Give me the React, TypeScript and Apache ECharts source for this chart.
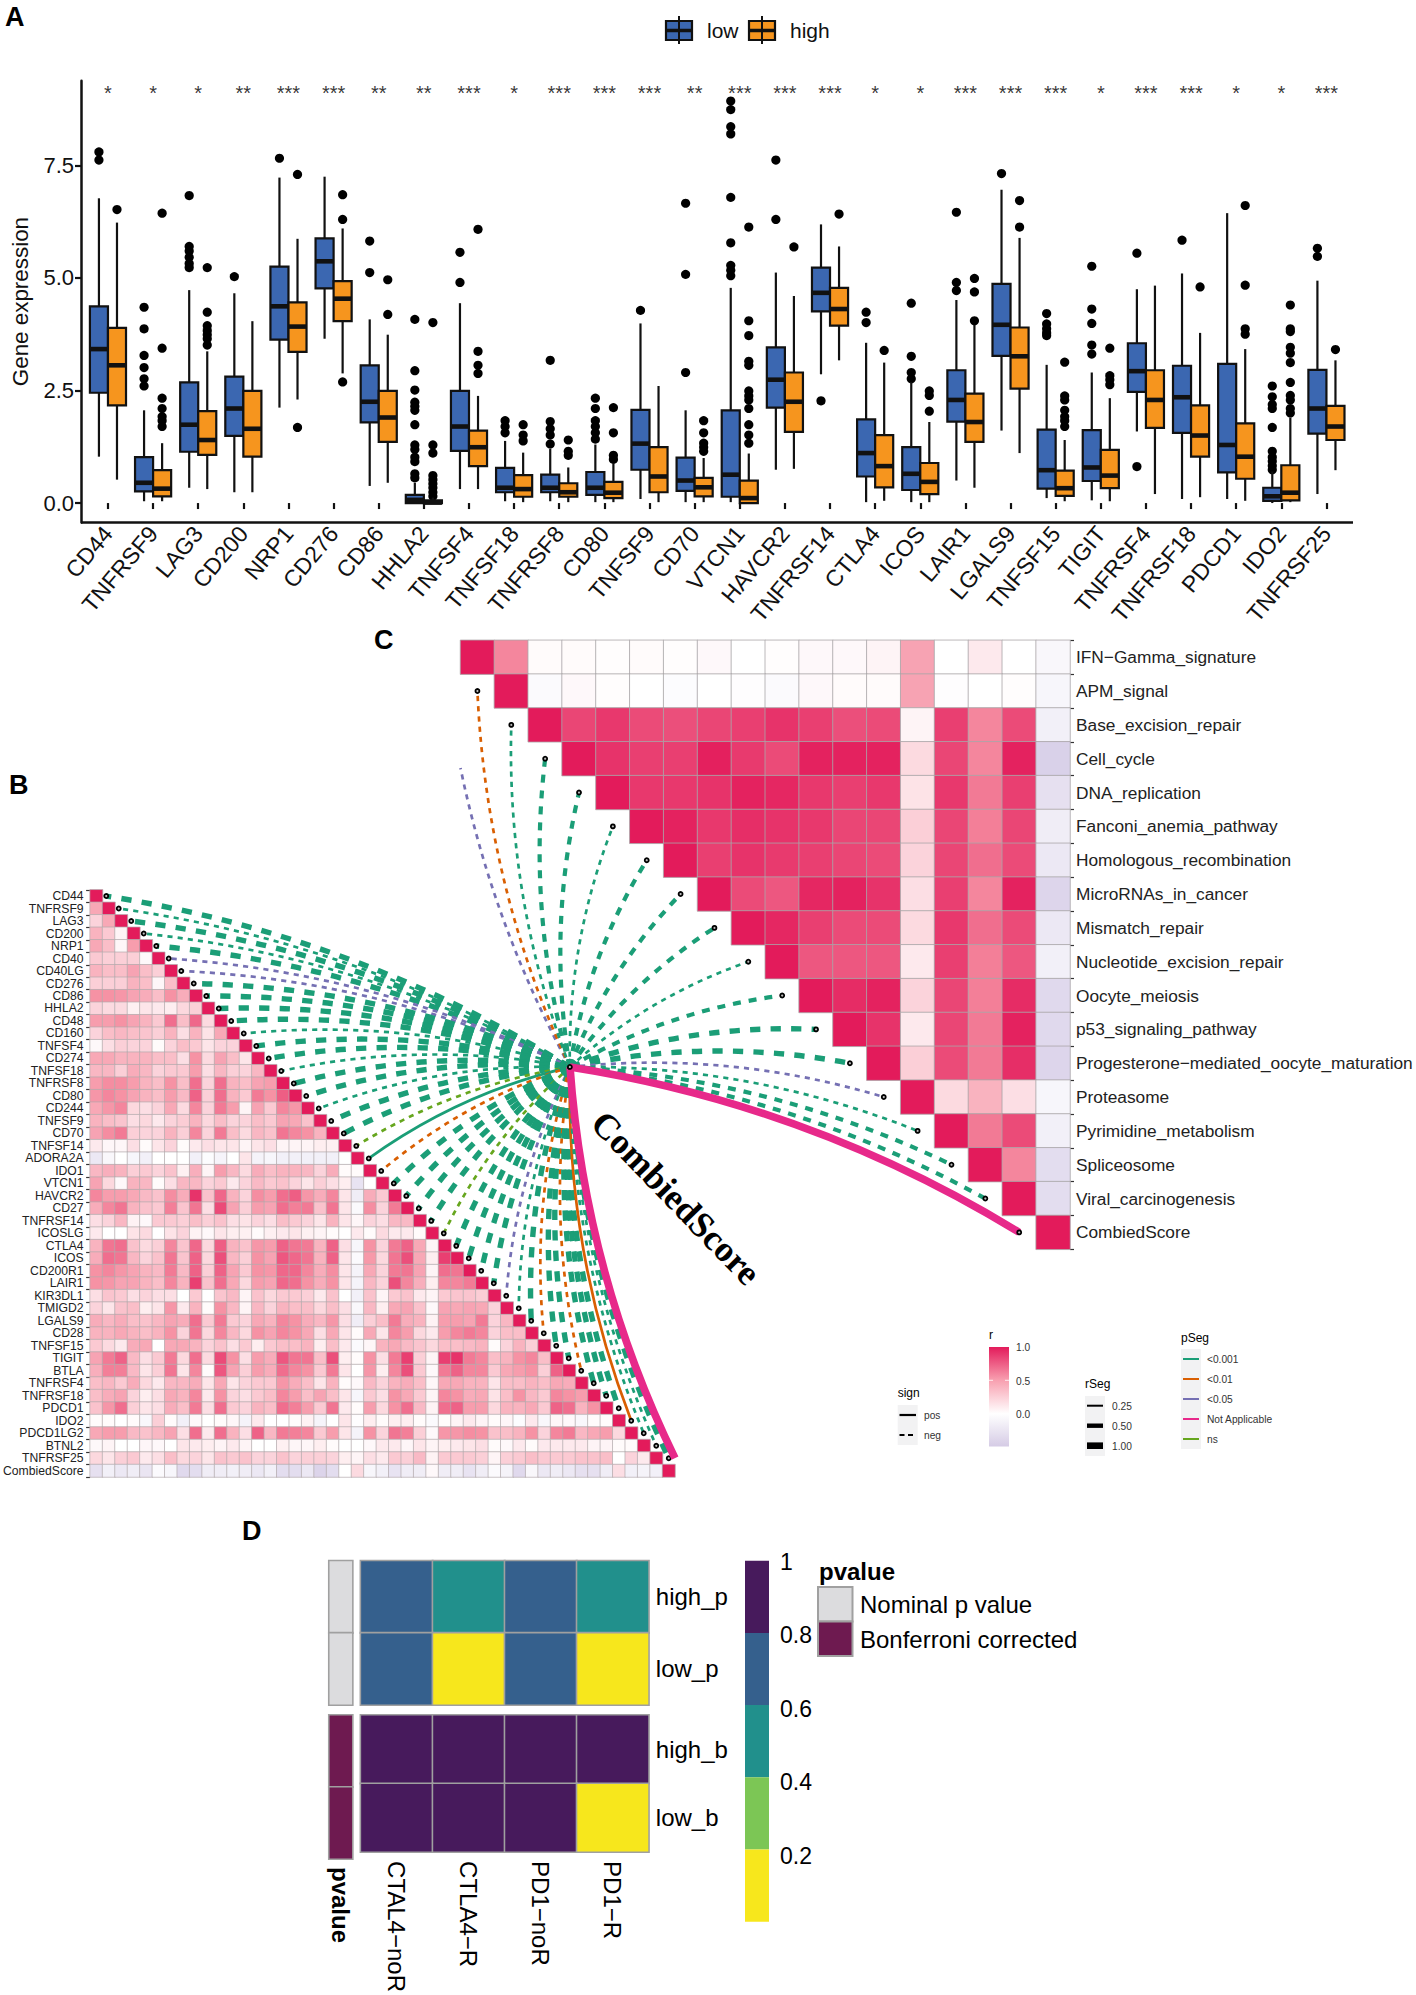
import React, { useEffect, useRef } from "react";
import * as echarts from "echarts";

const FONT = '"Liberation Sans", Arial, sans-serif';
const SERIF = '"Liberation Serif", "Times New Roman", serif';
const INK = "#111111";
const BLUE = "#3b67b1";
const ORANGE = "#f6951e";

// ---------- Panel A ----------
const genesA = ["CD44","TNFRSF9","LAG3","CD200","NRP1","CD276","CD86","HHLA2","TNFSF4","TNFSF18","TNFRSF8","CD80","TNFSF9","CD70","VTCN1","HAVCR2","TNFRSF14","CTLA4","ICOS","LAIR1","LGALS9","TNFSF15","TIGIT","TNFRSF4","TNFRSF18","PDCD1","IDO2","TNFRSF25"];
const starsA = ["*","*","*","**","***","***","**","**","***","*","***","***","***","**","***","***","***","*","*","***","***","***","*","***","***","*","*","***"];
// whisker low, q1, median, q3, whisker high
const lowBoxes = [
  [1.03,2.45,3.42,4.37,6.77],[.04,.26,.45,1.02,2.06],[.34,1.14,1.74,2.68,4.73],[.24,1.49,2.1,2.81,4.66],[2.12,3.63,4.37,5.25,7.23],[3.65,4.77,5.37,5.88,7.25],[.38,1.79,2.25,3.06,4.08],[0,0,.07,.18,.45],[.31,1.16,1.7,2.49,4.44],[.04,.24,.34,.78,1.38],[.04,.24,.34,.63,1.2],[.02,.18,.34,.69,1.3],[.09,.74,1.32,2.07,3.99],[.02,.27,.5,1.01,2.06],
  [.02,.14,.63,2.06,4.78],[.74,2.12,2.74,3.46,5.12],[2.86,4.26,4.67,5.23,6.19],[.02,.59,1.11,1.86,3.56],[.02,.29,.65,1.24,2.69],[.5,1.81,2.29,2.95,4.51],[1.61,3.27,3.96,4.87,6.96],[.11,.32,.73,1.63,3.07],[.06,.49,.79,1.62,2.9],[1.59,2.47,2.93,3.55,4.75],[.09,1.56,2.35,3.05,5.1],[.09,.68,1.29,3.09,6.44],[0,.05,.15,.34,.7],[.2,1.54,2.1,2.96,4.94],
];
const highBoxes = [
  [.52,2.17,3.06,3.89,6.23],[.04,.15,.32,.73,1.33],[.31,1.07,1.4,2.04,3.37],[.24,1.03,1.65,2.49,4.04],[2.3,3.36,3.92,4.46,5.87],[2.88,4.04,4.54,4.93,6.1],[.45,1.36,1.9,2.49,3.74],[0,0,.01,.06,.12],[.31,.82,1.24,1.61,2.38],[.02,.14,.31,.62,1.12],[.02,.14,.24,.44,.79],[.02,.11,.23,.47,.88],[.02,.24,.59,1.24,2.6],[.02,.15,.35,.56,1],
  [0,0,.11,.5,1.1],[.76,1.58,2.25,2.9,4.6],[3.17,3.94,4.31,4.78,5.7],[.05,.35,.82,1.51,3.12],[.02,.2,.47,.89,1.8],[.34,1.36,1.8,2.43,3.96],[1.11,2.54,3.26,3.9,5.89],[.04,.16,.33,.72,1.4],[.04,.33,.61,1.18,2.33],[.2,1.67,2.29,2.95,4.83],[.13,1.03,1.5,2.17,3.78],[.05,.54,1.03,1.77,3.42],[.02,.06,.23,.84,1.9],[.73,1.4,1.7,2.16,3.17],
];
const lowOutliers = [
  [7.8,7.62],[4.35,3.87,3.28,3.01,2.76,2.6],[6.83,5.7,5.6,5.46,5.32,5.23],[5.03],[7.66],[],[5.82,5.12],[4.08,2.94,2.51,2.24,2.15,2.06,1.74,1.29,1.19,1.02,.92,.65,.56],[5.57,4.9],[1.83,1.7,1.56],[3.17,1.81,1.65,1.51,1.31],[2.33,2.1,1.83,1.7,1.56,1.42],[4.28],[6.66,5.08,2.9],
  [8.93,8.74,8.36,8.2,6.79,5.78,5.28,5.17,5.05],[7.62,6.3],[2.27],[4.24,4.01],[4.44,3.26,2.9,2.76],[6.46,4.9,4.72],[7.32],[4.21,3.98,3.87,3.78,3.72],[5.26,4.31,3.99,3.51,3.31],[5.55,.81],[5.84],[],[2.6,2.36,2.19,2.1,1.68,1.15,1.02,.93,.83,.74],[5.66,5.48],
];
const highOutliers = [
  [6.52],[6.44,3.44,2.33,2.1,1.92,1.83,1.7],[5.23,4.24,3.94,3.83,3.74,3.65,3.51],[],[7.3,1.68],[6.85,6.3,2.69],[4.96,4.19],[4.01,1.29,1.11,.61,.52,.43,.34,.24,.15],[6.08,3.37,3.06,2.88],[1.74,1.51,1.38],[1.4,1.15,1.06],[2.12,1.56,1.06,.97],[],[1.83,1.56,1.33,1.24,1.15],
  [6.13,4.05,3.72,3.15,3.06,2.49,2.38,2.29,2.1,1.74,1.51,1.33],[5.69],[6.42],[3.39],[2.49,2.39,2.04],[4.99,4.69,4.05],[6.72,6.13],[3.13,2.38,2.29,2.06,1.92,1.83,1.7],[3.44,2.83,2.74,2.63],[],[4.8],[6.61,4.84,3.87,3.75],[4.4,3.87,3.81,3.46,3.33,3.12,2.68,2.39,2.29,2.1,2],[3.41],
];
const yTicksA = [0, 2.5, 5, 7.5];

// ---------- Panel B ----------
const genesB = ["CD44","TNFRSF9","LAG3","CD200","NRP1","CD40","CD40LG","CD276","CD86","HHLA2","CD48","CD160","TNFSF4","CD274","TNFSF18","TNFRSF8","CD80","CD244","TNFSF9","CD70","TNFSF14","ADORA2A","IDO1","VTCN1","HAVCR2","CD27","TNFRSF14","ICOSLG","CTLA4","ICOS","CD200R1","LAIR1","KIR3DL1","TMIGD2","LGALS9","CD28","TNFSF15","TIGIT","BTLA","TNFRSF4","TNFRSF18","PDCD1","IDO2","PDCD1LG2","BTNL2","TNFRSF25","CombiedScore"];
// lower triangle, row by row, without the diagonal
const corrB = [
  [],[.4],[.2,.4],[.35,.25,.05],[.4,.3,.04,.45],[.25,.22,.22,.22,.03],[.35,.3,.3,.42,.3,.22],[.22,.22,.22,.35,.3,.04,.3],
  [.5,.5,.48,.42,.38,.3,.5,.38],[.2,.17,.17,.07,.12,.1,.08,.18,.22],[.45,.45,.5,.42,.35,.25,.65,.3,.68,.17],
  [.2,.3,.33,.3,.27,.22,.35,.15,.35,.13,.4],[.03,.15,.22,.2,.2,.02,.2,.3,.25,.12,.2,.2],
  [.4,.4,.35,.35,.35,.3,.3,.15,.5,.17,.42,.3,.12],[.33,.33,.22,.38,.33,.2,.25,.25,.45,.15,.33,.22,.2,.33],
  [.45,.52,.52,.45,.35,.3,.5,.3,.65,.2,.65,.35,.3,.42,.45],[.48,.55,.5,.42,.35,.3,.45,.32,.7,.22,.65,.35,.25,.6,.5,.72],
  [.4,.48,.55,.18,.15,.2,.4,.17,.55,.2,.6,.45,.05,.42,.25,.55,.48],[.35,.3,.27,.15,.18,.1,.2,.23,.35,.18,.3,.2,.2,.3,.25,.42,.4,.28],
  [.42,.52,.6,.22,.2,.2,.35,.22,.55,.2,.6,.3,.17,.33,.28,.62,.55,.5,.35],
  [.1,.04,.04,.15,.02,.12,.2,.02,.1,.15,.12,.12,.05,.12,.15,.05,.05,.05,.08,.07],
  [-.15,-.05,0,-.06,-.1,0,0,0,-.1,-.02,-.07,0,.12,-.08,-.06,-.1,-.1,-.1,-.1,-.1,0],
  [.33,.37,.35,.22,.25,.2,.28,.07,.37,.05,.45,.33,.17,.38,.3,.35,.35,.33,.2,.38,.02,.02],
  [.42,.18,.03,.35,.33,.02,.15,.33,.33,.2,.25,.1,.2,.32,.25,.28,.2,.12,.22,.15,.08,-.18,0],
  [.55,.45,.45,.4,.32,.28,.52,.38,.9,.28,.68,.35,.2,.52,.45,.65,.72,.48,.38,.55,.12,-.12,.38,.25],
  [.38,.55,.62,.35,.28,.25,.58,.27,.62,.15,.8,.42,.22,.45,.42,.65,.58,.6,.28,.62,.12,-.04,.52,.2,.6],
  [.15,.2,.33,.06,.03,.25,.25,.22,.3,.22,.28,.15,.13,.2,.15,.3,.25,.2,.12,.35,.12,.04,.2,.15,.33,.32],
  [.1,0,0,.13,.17,0,.13,.2,.06,.03,.12,.08,.07,.02,.07,.1,.12,.07,.05,.02,0,.1,.02,.17,.1,.1,.02],
  [.35,.62,.65,.28,.17,.22,.55,.27,.68,.18,.72,.35,.28,.48,.45,.7,.62,.6,.35,.7,.15,-.06,.5,.2,.6,.7,.4,.05],
  [.38,.65,.62,.33,.2,.28,.62,.27,.7,.18,.78,.33,.22,.5,.42,.75,.68,.62,.35,.7,.12,-.03,.47,.18,.62,.78,.4,.08,.85],
  [.5,.55,.48,.42,.35,.32,.6,.32,.7,.22,.7,.42,.25,.5,.48,.68,.68,.55,.38,.52,.12,-.08,.4,.2,.6,.62,.42,.05,.65,.62],
  [.5,.48,.42,.42,.35,.3,.55,.35,.85,.28,.65,.4,.18,.45,.42,.68,.65,.5,.38,.5,.12,-.08,.33,.2,.78,.55,.37,.08,.55,.55,.6],
  [.15,.27,.25,.15,.2,.15,.15,0,.25,0,.27,.32,.05,.28,.18,.25,.25,.22,.1,.28,0,-.1,.28,.05,.25,.28,.1,.05,.25,.27,.27,.23],
  [.2,.12,.28,.3,.08,.12,.48,.1,.35,.02,.5,.33,.05,.33,.2,.35,.3,.3,.18,.3,.15,-.05,.33,.08,.4,.42,.28,.03,.42,.4,.42,.4,.2],
  [.38,.33,.38,.3,.28,.33,.42,.38,.65,.25,.6,.25,.2,.4,.35,.55,.5,.38,.33,.48,.15,-.12,.22,.3,.6,.38,.35,.06,.45,.45,.42,.6,.2,.33],
  [.35,.35,.4,.35,.3,.35,.5,.2,.62,.18,.55,.33,.18,.5,.42,.55,.5,.4,.15,.4,.12,.02,.4,.12,.55,.45,.18,.1,.45,.55,.6,.55,.2,.3,.3],
  [.25,.17,.1,.38,.4,0,.4,.4,.35,.2,.28,.15,.25,.08,.25,.3,.3,.35,.08,.3,.1,-.03,.04,.35,.4,.32,.27,.18,.3,.3,.32,.35,.02,.2,.35,.22],
  [.42,.6,.7,.32,.15,.25,.6,.18,.65,.17,.8,.5,.15,.45,.38,.75,.62,.62,.3,.78,.08,.02,.5,.15,.6,.85,.22,.05,.85,.9,.6,.55,.3,.35,.5,.55,.3],
  [.37,.58,.58,.32,.12,.22,.62,.12,.55,.02,.75,.42,.22,.45,.38,.65,.55,.5,.25,.6,.12,0,.48,.08,.55,.78,.25,.03,.6,.7,.55,.55,.25,.4,.45,.5,.22,.7],
  [.3,.33,.25,.38,.18,.1,.33,.33,.38,.12,.4,.12,.2,.25,.25,.48,.38,.3,.12,.35,.02,.03,.32,.2,.35,.38,.3,.04,.4,.4,.35,.35,.12,.3,.3,.35,.3,.4,.38],
  [.3,.38,.42,.2,.08,.15,.4,.35,.55,.1,.5,.2,.15,.25,.3,.55,.45,.3,.42,.3,.12,-.06,.25,.15,.5,.4,.25,.05,.55,.5,.38,.4,.13,.3,.5,.33,.25,.55,.5,.45],
  [.28,.48,.65,.22,.12,.15,.38,.3,.6,.15,.65,.25,.2,.35,.3,.65,.58,.45,.25,.62,.1,.02,.45,.18,.5,.65,.32,.06,.65,.7,.45,.45,.18,.35,.35,.4,.25,.7,.65,.35,.5],
  [.02,.02,0,.02,-.05,.22,.02,-.1,.03,0,.02,.04,-.08,.1,0,0,.02,.06,-.07,0,.12,-.01,.08,.02,.08,.08,.02,-.03,.02,.05,.1,.05,.02,.04,-.02,.1,-.05,.04,.03,-.05,.02,.02],
  [.4,.45,.45,.32,.28,.33,.42,.15,.65,.1,.65,.35,.15,.7,.33,.6,.58,.55,.25,.45,.12,-.08,.5,.2,.62,.58,.22,.03,.48,.48,.52,.5,.28,.3,.35,.5,.2,.55,.6,.33,.4,.45,.18],
  [.03,.05,0,0,.04,.03,0,.12,.1,.08,.05,.1,.05,0,0,.07,.04,.04,.08,.02,0,0,.03,.1,.1,.04,.12,.05,.08,.1,.12,.15,.02,.03,.1,.02,.1,.1,.1,.1,.05,.05,.02,.02],
  [.18,.12,.22,.25,.1,.15,.3,.18,.2,.12,.28,.25,.28,.2,.2,.28,.2,.22,.22,.2,.08,.05,.15,.1,.25,.22,.32,.06,.25,.25,.25,.22,.05,.22,.25,.3,.25,.25,.25,.28,.28,.3,0,.2,.1],
  [-.2,-.1,-.15,-.12,-.17,-.03,-.06,-.25,-.22,-.12,-.12,-.1,-.12,-.15,-.1,-.22,-.22,-.15,-.28,-.22,0,.17,-.06,-.1,-.18,-.12,-.12,.03,-.12,-.12,-.18,-.12,-.03,-.08,-.25,-.05,-.15,-.12,-.15,-.2,-.2,-.12,.15,-.1,-.08,-.1],
];
// link class per gene of panel B, in row order
const linksB = ["T","t","T","t","T","p","p","T","T","T","T","t","T","T","t","T","T","t","T","T","n","s","o","T","T","T","T","n","T","T","T","T","p","t","T","o","T","T","o","T","T","T","S","t","t","T","X"];

// ---------- Panel C ----------
const termsC = ["IFN−Gamma_signature","APM_signal","Base_excision_repair","Cell_cycle","DNA_replication","Fanconi_anemia_pathway","Homologous_recombination","MicroRNAs_in_cancer","Mismatch_repair","Nucleotide_excision_repair","Oocyte_meiosis","p53_signaling_pathway","Progesterone−mediated_oocyte_maturation","Proteasome","Pyrimidine_metabolism","Spliceosome","Viral_carcinogenesis","CombiedScore"];
// upper triangle, row by row, starting on the diagonal
const corrC = [
  [1,.55,.02,.02,.01,.02,.01,.03,0,.01,.03,.03,.05,.42,0,.1,0,-.05],
  [1,-.03,.03,.01,0,-.02,0,-.01,-.03,.03,.02,.02,.42,-.01,0,.01,-.06],
  [1,.82,.88,.8,.78,.82,.85,.9,.85,.78,.8,.05,.85,.55,.8,-.1],
  [1,.9,.85,.85,.98,.87,.8,.97,.97,.97,.17,.82,.55,.97,-.3],
  [1,.88,.88,.9,.97,.95,.88,.85,.88,.13,.88,.6,.85,-.2],
  [1,.97,.88,.92,.9,.88,.82,.82,.22,.82,.58,.82,-.12],
  [1,.85,.9,.87,.85,.82,.8,.2,.82,.65,.8,-.15],
  [1,.8,.75,.95,.97,.9,.15,.85,.55,.97,-.27],
  [1,.95,.85,.8,.8,.17,.88,.65,.8,-.15],
  [1,.75,.75,.75,.1,.85,.58,.75,-.1],
  [1,.93,.97,.2,.82,.58,.93,-.25],
  [1,.9,.1,.82,.6,.97,-.25],
  [1,.22,.8,.6,.92,-.27],
  [1,.17,.35,.15,-.06],
  [1,.6,.8,-.1],
  [1,.55,-.22],
  [1,-.22],
  [1],
];
const linksC = ["p","o","t","M","M","t","M","M","M","t","M","T","T","p","t","M","M","X"];

// ---------- Panel D ----------
const colsD = ["CTAL4−noR","CTLA4−R","PD1−noR","PD1−R"];
const rowsDp = ["high_p","low_p"];
const rowsDb = ["high_b","low_b"];
const valsDp = [[.7,.5,.7,.5],[.7,.1,.7,.1]];
const valsDb = [[1,1,1,1],[1,1,1,.1]];
const stripDp = [[0],[0]];
const stripDb = [[1],[1]];
const binsD = [
  { min: 0, max: .2, color: "#f7e71c" },
  { min: .2, max: .4, color: "#7cc655" },
  { min: .4, max: .6, color: "#21908c" },
  { min: .6, max: .8, color: "#35608d" },
  { min: .8, max: 1, color: "#471a5c" },
];
const GRAY_STRIP = "#dcdcde";
const PLUM_STRIP = "#6e1a50";

const LINK_COLORS = { green: "#1b9e77", orange: "#d95f02", purple: "#7570b3", pink: "#e7298a", ns: "#66a61e" };
const LINK_CLASSES: any = {
  T: { c: LINK_COLORS.green, w: 5.4, dash: true },
  M: { c: LINK_COLORS.green, w: 4.2, dash: true },
  t: { c: LINK_COLORS.green, w: 2.7, dash: true },
  p: { c: LINK_COLORS.purple, w: 2.7, dash: true },
  o: { c: LINK_COLORS.orange, w: 2.7, dash: true },
  n: { c: LINK_COLORS.ns, w: 2.7, dash: true },
  s: { c: LINK_COLORS.green, w: 2.7, dash: false },
  S: { c: LINK_COLORS.orange, w: 2.7, dash: false },
  X: { c: LINK_COLORS.pink, w: 7.6, dash: false },
};

const subCurve = (a: number[], c: number[], b: number[], t: number) => {
  const l = (p: number[], q: number[], u: number) => [p[0] + (q[0] - p[0]) * u, p[1] + (q[1] - p[1]) * u];
  const c2 = l(a, c, t);
  return { c: c2, e: l(c2, l(c, b, t), t) };
};

const linkRender = (codes: string[], hub: number[], sign: number, edgeCol: (i: number) => number, edge: number) => (params: any, api: any) => {
  const i = params.dataIndex;
  const st = LINK_CLASSES[codes[i]];
  const h = api.coord(hub);
  let e = api.coord([api.value(0), api.value(1)]);
  const dx = e[0] - h[0], dy = e[1] - h[1], k = 0.1 * sign;
  let c = [(h[0] + e[0]) / 2 - k * dy, (h[1] + e[1]) / 2 + k * dx];
  const limit = api.coord([edge, 0])[0];
  const outside = (edgeCol(i) - edge) * (edge > 5 ? 1 : -1) > 0;
  if (outside) {
    let lo = 0, hi = 1;
    for (let n = 0; n < 30; n++) {
      const t = (lo + hi) / 2;
      const q = subCurve(h, c, e, t).e;
      if ((q[0] - limit) * (e[0] - limit) > 0) hi = t; else lo = t;
    }
    const s = subCurve(h, c, e, lo);
    c = s.c; e = s.e;
  }
  const children: any[] = [{
    type: "bezierCurve",
    shape: { x1: h[0], y1: h[1], x2: e[0], y2: e[1], cpx1: c[0], cpy1: c[1] },
    style: { stroke: st.c, lineWidth: st.w, fill: "none", lineDash: st.dash ? [st.w * 1.9, st.w * 1.9] : null },
  }];
  if (!outside) children.push({ type: "circle", shape: { cx: e[0], cy: e[1], r: 2 }, style: { fill: "#bbbbbb", stroke: "#000", lineWidth: 1.8 } });
  if (codes[i] === "X") children.push({ type: "circle", shape: { cx: h[0], cy: h[1], r: 2 }, style: { fill: "#bbbbbb", stroke: "#000", lineWidth: 1.8 } });
  return { type: "group", children };
};

const boxRender = (side: number, fill: string) => (_p: any, api: any) => {
  const i = api.value(0);
  const band = api.size([1, 0])[0];
  const x = api.coord([i, 0])[0] + side * 0.2 * band;
  const half = 0.2 * band;
  const y = (d: number) => api.coord([i, api.value(d)])[1];
  const line = (x1: number, y1: number, x2: number, y2: number, w: number) => ({ type: "line", shape: { x1, y1, x2, y2 }, style: { stroke: INK, lineWidth: w } });
  return {
    type: "group",
    children: [
      line(x, y(1), x, y(2), 2.2),
      line(x, y(4), x, y(5), 2.2),
      { type: "rect", shape: { x: x - half, y: y(4), width: half * 2, height: y(2) - y(4) }, style: { fill, stroke: INK, lineWidth: 2.2 } },
      line(x - half, y(3), x + half, y(3), 4.6),
    ],
  };
};

const dotRender = (side: number) => (_p: any, api: any) => {
  const band = api.size([1, 0])[0];
  const p = api.coord([api.value(0), api.value(1)]);
  return { type: "circle", shape: { cx: p[0] + side * 0.2 * band, cy: p[1], r: 4.6 }, style: { fill: "#000" } };
};

const txt = (text: string, x: number, y: number, size: number, o: any = {}) => ({
  type: "text", x, y, rotation: o.rot || 0, z: 50,
  style: { text, fontSize: size, fontFamily: o.family || FONT, fontWeight: o.weight || "normal", fill: o.color || "#000", align: o.align || "left", verticalAlign: "middle" },
});
const hline = (x1: number, x2: number, y: number, w: number, color = "#000", dash?: number[]) => ({
  type: "line", z: 50, shape: { x1, y1: y, x2, y2: y }, style: { stroke: color, lineWidth: w, lineDash: dash || null },
});
const box = (x: number, y: number, width: number, height: number, fill: any, extra: any = {}) => ({
  type: "rect", z: 45, shape: { x, y, width, height }, style: { fill, ...extra },
});

function buildOption() {
  const grids = [
    { left: 85.4, top: 80.8, width: 1263.6, height: 441.6 },
    { left: 87.5, top: 889.8, width: 587.5, height: 587.2 },
    { left: 87.5, top: 889.8, width: 587.5, height: 587.2 },
    { left: 460.5, top: 640.3, width: 609.5, height: 609 },
    { left: 460.5, top: 640.3, width: 609.5, height: 609 },
    { left: 329, top: 1560.7, width: 23.6, height: 144.3 },
    { left: 360.6, top: 1560.7, width: 288.2, height: 144.3 },
    { left: 329, top: 1715, width: 23.6, height: 144 },
    { left: 360.6, top: 1715, width: 288.2, height: 144 },
  ];
  const off = { show: false };
  const catHidden = (data: string[], gridIndex: number, inverse = false) => ({ type: "category", gridIndex, data, inverse, axisLine: off, axisTick: off, axisLabel: off, splitLine: off });
  const tickStyle = { show: true, length: 4, lineStyle: { color: "#333", width: 1.2 } };

  const xAxis = [
    { type: "category", gridIndex: 0, data: genesA, axisLine: off, axisTick: { show: true, length: 6, alignWithLabel: true, lineStyle: { color: INK, width: 2.2 } }, axisLabel: { interval: 0, rotate: 50, margin: 7, fontSize: 23, fontFamily: FONT, color: "#111" }, splitLine: off },
    catHidden(genesB, 1),
    { type: "value", gridIndex: 2, min: -0.5, max: 46.5, show: false },
    catHidden(termsC, 3),
    { type: "value", gridIndex: 4, min: -0.5, max: 17.5, show: false },
    catHidden(["pvalue"], 5),
    catHidden(colsD, 6),
    { type: "category", gridIndex: 7, data: ["pvalue"], axisLine: off, axisTick: off, axisLabel: { rotate: -90, margin: 8, fontSize: 24, fontWeight: "bold", fontFamily: FONT, color: "#000" } },
    { type: "category", gridIndex: 8, data: colsD, axisLine: off, axisTick: off, axisLabel: { interval: 0, rotate: -90, margin: 9, fontSize: 24, fontFamily: FONT, color: "#000" } },
  ];
  const yAxis = [
    {
      type: "value", gridIndex: 0, min: -0.43, max: 9.38, offset: 4.4, splitLine: off,
      name: "Gene expression", nameLocation: "middle", nameRotate: 90, nameGap: 50, nameTextStyle: { fontSize: 22.4, fontFamily: FONT, color: "#111" },
      axisLine: { show: true, lineStyle: { color: INK, width: 2.5 } },
      axisTick: { show: true, length: 6, customValues: yTicksA, lineStyle: { color: INK, width: 2.2 } },
      axisLabel: { customValues: yTicksA, margin: 7, fontSize: 22, fontFamily: FONT, color: "#111", formatter: (v: number) => v.toFixed(1) },
    },
    { type: "category", gridIndex: 1, data: genesB, inverse: true, axisLine: off, axisTick: tickStyle, axisLabel: { interval: 0, margin: 6.5, fontSize: 12.2, fontFamily: FONT, color: "#222" } },
    { type: "value", gridIndex: 2, min: -0.5, max: 46.5, inverse: true, show: false },
    { type: "category", gridIndex: 3, data: termsC, inverse: true, position: "right", axisLine: off, axisTick: tickStyle, axisLabel: { interval: 0, margin: 6, fontSize: 17.3, fontFamily: FONT, color: "#222" } },
    { type: "value", gridIndex: 4, min: -0.5, max: 17.5, inverse: true, show: false },
    catHidden(rowsDp, 5, true),
    { type: "category", gridIndex: 6, data: rowsDp, inverse: true, position: "right", axisLine: off, axisTick: off, axisLabel: { margin: 7, fontSize: 24, fontFamily: FONT, color: "#000" } },
    catHidden(rowsDb, 7, true),
    { type: "category", gridIndex: 8, data: rowsDb, inverse: true, position: "right", axisLine: off, axisTick: off, axisLabel: { margin: 7, fontSize: 24, fontFamily: FONT, color: "#000" } },
  ];

  const toBox = (rows: number[][]) => rows.map((r, i) => [i, ...r]);
  const toDots = (rows: number[][]) => rows.flatMap((r, i) => r.map((v) => [i, v]));
  const cellsB: number[][] = [];
  corrB.forEach((row, i) => { row.forEach((v, j) => cellsB.push([j, i, v])); cellsB.push([i, i, 1]); });
  const cellsC: number[][] = [];
  corrC.forEach((row, i) => row.forEach((v, k) => cellsC.push([i + k, i, v])));
  const gridCells = (rows: number[][]) => rows.flatMap((r, i) => r.map((v, j) => [j, i, v]));
  const heat = (idx: number, data: any[], borderWidth: number, borderColor: string) => ({
    type: "heatmap", xAxisIndex: idx, yAxisIndex: idx, data, silent: true, progressive: 0,
    itemStyle: { borderColor, borderWidth },
  });

  const series: any[] = [
    { type: "custom", name: "lowOutliers", xAxisIndex: 0, yAxisIndex: 0, silent: true, renderItem: dotRender(-1), encode: { x: 0, y: 1 }, data: toDots(lowOutliers) },
    { type: "custom", name: "highOutliers", xAxisIndex: 0, yAxisIndex: 0, silent: true, renderItem: dotRender(1), encode: { x: 0, y: 1 }, data: toDots(highOutliers) },
    { type: "custom", name: "low", xAxisIndex: 0, yAxisIndex: 0, silent: true, itemStyle: { color: BLUE }, renderItem: boxRender(-1, BLUE), encode: { x: 0, y: [1, 2, 3, 4, 5] }, data: toBox(lowBoxes) },
    { type: "custom", name: "high", xAxisIndex: 0, yAxisIndex: 0, silent: true, itemStyle: { color: ORANGE }, renderItem: boxRender(1, ORANGE), encode: { x: 0, y: [1, 2, 3, 4, 5] }, data: toBox(highBoxes) },
    {
      type: "scatter", xAxisIndex: 0, yAxisIndex: 0, silent: true, symbolSize: 1, itemStyle: { color: "rgba(0,0,0,0)" },
      data: starsA.map((s, i) => [i, 9.1, s]),
      label: { show: true, position: "inside", formatter: (p: any) => p.data[2], fontSize: 20, fontFamily: FONT, color: "#000" },
    },
    heat(1, cellsB, 0.7, "#b3abad"),
    heat(3, cellsC, 0.8, "#aaa6a8"),
    heat(5, gridCells(stripDp), 1.6, "#a0a0a0"),
    heat(6, gridCells(valsDp), 1.6, "#a0a0a0"),
    heat(7, gridCells(stripDb), 1.6, "#a0a0a0"),
    heat(8, gridCells(valsDb), 1.6, "#a0a0a0"),
    {
      type: "custom", xAxisIndex: 2, yAxisIndex: 2, silent: true, encode: { x: 0, y: 1 },
      renderItem: linkRender(linksB, [38.1, 13.69], 1, (i) => i + 1, 46.5),
      data: genesB.map((_, i) => [i + 1, i]),
    },
    {
      type: "custom", xAxisIndex: 4, yAxisIndex: 4, silent: true, encode: { x: 0, y: 1 },
      renderItem: linkRender(linksC, [2.73, 12.11], -1, (i) => i - 1, -0.5),
      data: termsC.map((_, i) => [i - 1, i]),
    },
  ];

  const grad = new echarts.graphic.LinearGradient(0, 0, 0, 1, [
    { offset: 0, color: "#e31b5b" }, { offset: 0.335, color: "#f8a0b0" }, { offset: 0.67, color: "#ffffff" }, { offset: 1, color: "#d5cbe5" },
  ]);
  const small = { color: "#333" };

  const elements: any[] = [
    hline(81, 1353, 522.4, 2.5, INK),
    // legend marks of panel A
    { type: "line", z: 50, shape: { x1: 679, y1: 16, x2: 679, y2: 44 }, style: { stroke: INK, lineWidth: 2 } },
    box(666, 21, 26, 19, BLUE, { stroke: INK, lineWidth: 2.2 }),
    hline(666, 692, 30.5, 3.5, INK),
    { type: "line", z: 50, shape: { x1: 762, y1: 16, x2: 762, y2: 44 }, style: { stroke: INK, lineWidth: 2 } },
    box(749, 21, 26, 19, ORANGE, { stroke: INK, lineWidth: 2.2 }),
    hline(749, 775, 30.5, 3.5, INK),
    txt("A", 5, 17, 27, { weight: "bold" }),
    txt("B", 9, 785, 27, { weight: "bold" }),
    txt("C", 374, 640, 27, { weight: "bold" }),
    txt("D", 242, 1531, 27, { weight: "bold" }),
    txt("CombiedScore", 676, 1198, 36, { family: SERIF, weight: "bold", align: "center", rot: -46 * Math.PI / 180 }),
    // sign
    txt("sign", 897.7, 1393, 12),
    box(897.7, 1405, 20, 40, "#f2f2f3"),
    hline(899.5, 916, 1415, 2.2), hline(899.5, 916, 1435, 2.2, "#000", [5, 3.5]),
    txt("pos", 924, 1415, 10.2, small), txt("neg", 924, 1435, 10.2, small),
    // r
    txt("r", 989, 1335, 12),
    box(989, 1347, 20, 99.6, grad),
    hline(989, 993, 1380.3, 0.8, "#fff"), hline(1005, 1009, 1380.3, 0.8, "#fff"),
    txt("1.0", 1016, 1347, 10.2, small), txt("0.5", 1016, 1381, 10.2, small), txt("0.0", 1016, 1414, 10.2, small),
    // rSeg
    txt("rSeg", 1085, 1384, 12),
    box(1085, 1396, 20, 60, "#f2f2f3"),
    hline(1087, 1103, 1405.7, 2), hline(1087, 1103, 1425.7, 4.4), hline(1087, 1103, 1445.7, 6.6),
    txt("0.25", 1112, 1406, 10.2, small), txt("0.50", 1112, 1426, 10.2, small), txt("1.00", 1112, 1446, 10.2, small),
    // pSeg
    txt("pSeg", 1181, 1338, 12),
    box(1181, 1349, 20, 100, "#f2f2f3"),
    hline(1183, 1199, 1359, 2, LINK_COLORS.green), hline(1183, 1199, 1379, 2, LINK_COLORS.orange), hline(1183, 1199, 1399, 2, LINK_COLORS.purple),
    hline(1183, 1199, 1419, 2, LINK_COLORS.pink), hline(1183, 1199, 1439, 2, LINK_COLORS.ns),
    txt("<0.001", 1207, 1359, 10.2, small), txt("<0.01", 1207, 1379, 10.2, small), txt("<0.05", 1207, 1399, 10.2, small),
    txt("Not Applicable", 1207, 1419, 10.2, small), txt("ns", 1207, 1439, 10.2, small),
    // colour steps of panel D
    ...binsD.slice().reverse().map((b, i) => box(745, 1560.7 + i * 72.2, 24, 72.2, b.color)),
    txt("1", 780, 1562, 23), txt("0.8", 780, 1635, 23), txt("0.6", 780, 1709, 23), txt("0.4", 780, 1782, 23), txt("0.2", 780, 1856, 23),
    txt("pvalue", 819, 1571, 24, { weight: "bold" }),
    box(818, 1587, 34.5, 34.5, GRAY_STRIP, { stroke: "#a0a0a0", lineWidth: 2 }),
    box(818, 1621.5, 34.5, 34.5, PLUM_STRIP, { stroke: "#a0a0a0", lineWidth: 2 }),
    txt("Nominal p value", 860, 1604, 24), txt("Bonferroni corrected", 860, 1639, 24),
  ];

  return {
    animation: false,
    backgroundColor: "#ffffff",
    grid: grids,
    xAxis,
    yAxis,
    legend: {
      left: 666, top: 13, itemWidth: 26, itemHeight: 24, itemGap: 15.5, icon: "rect", selectedMode: false,
      data: [
        { name: "low", itemStyle: { color: "rgba(0,0,0,0)" } },
        { name: "high", itemStyle: { color: "rgba(0,0,0,0)" } },
      ],
      textStyle: { fontSize: 21, fontFamily: FONT, color: "#111", padding: [0, 0, 0, 5] },
    },
    visualMap: [
      {
        type: "continuous", show: false, min: -0.5, max: 1, seriesIndex: [5, 6], dimension: 2,
        inRange: { color: ["#c0b2da", "#ffffff", "#f692a4", "#e31b5b"] },
      },
      {
        type: "piecewise", show: false, seriesIndex: [8, 10], dimension: 2,
        pieces: binsD,
      },
      {
        type: "piecewise", show: false, seriesIndex: [7, 9], dimension: 2,
        pieces: [{ value: 0, color: GRAY_STRIP }, { value: 1, color: PLUM_STRIP }],
      },
    ],
    series,
    graphic: { elements },
  };
}

export default function App() {
  const ref = useRef<HTMLDivElement>(null);
  useEffect(() => {
    if (!ref.current) return;
    const chart = echarts.init(ref.current, undefined, { renderer: "svg" });
    chart.setOption(buildOption() as any);
    return () => chart.dispose();
  }, []);
  return <div ref={ref} style={{ position: "absolute", left: 0, top: 0, width: 1416, height: 1995 }} />;
}
